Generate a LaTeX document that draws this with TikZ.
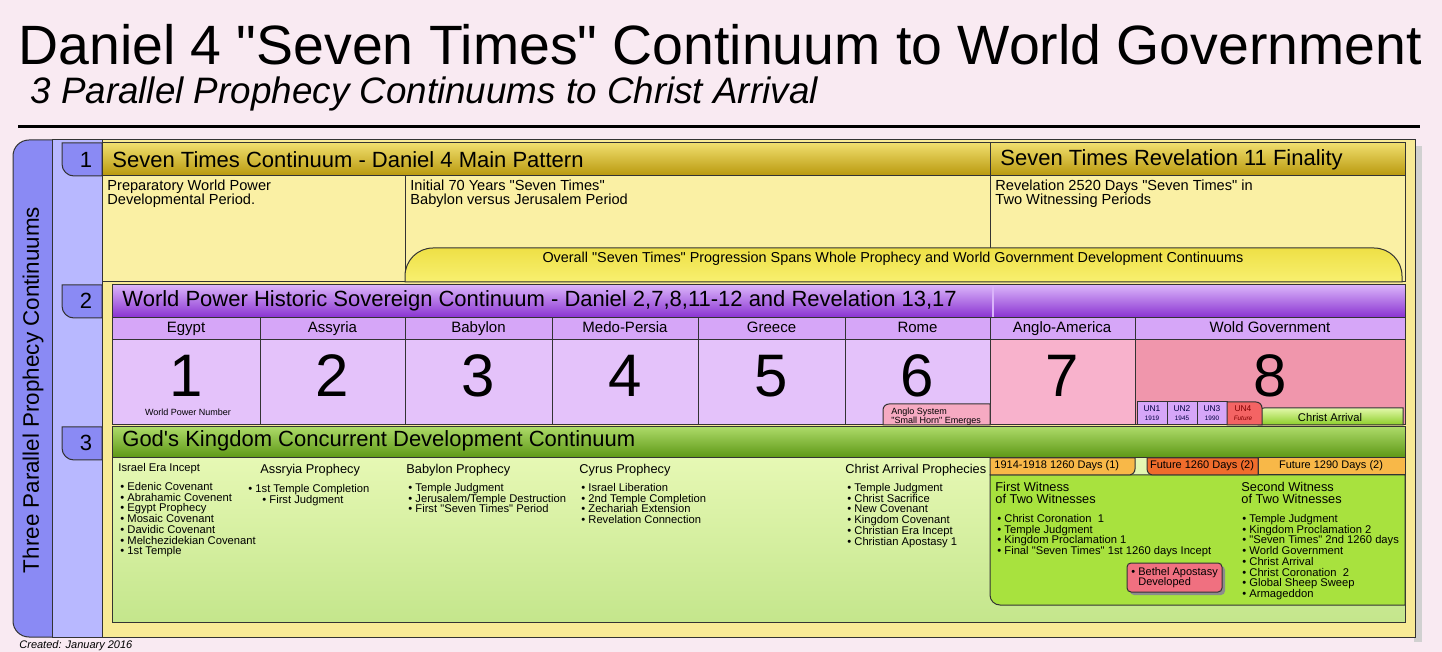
\documentclass[tikz,border=0pt]{standalone}
\usepackage{fontspec}
\setmainfont{Liberation Sans}[Ligatures=TeXOff]
\usetikzlibrary{positioning}
\setlength{\lineskiplimit}{-5pt}

\definecolor{bgpink}{RGB}{249,234,242}
\definecolor{colblue}{RGB}{138,138,244}
\definecolor{lightblue}{RGB}{184,184,255}
\definecolor{frameyellow}{RGB}{248,234,150}
\definecolor{bodyyellow}{RGB}{250,240,164}
\definecolor{goldtop}{RGB}{240,222,110}
\definecolor{goldbot}{RGB}{184,152,12}
\definecolor{bandtop}{RGB}{238,224,70}
\definecolor{bandbot}{RGB}{248,240,112}
\definecolor{purpletop}{RGB}{218,180,250}
\definecolor{purplebot}{RGB}{136,48,208}
\definecolor{lavender}{RGB}{214,166,248}
\definecolor{cellpurple}{RGB}{228,194,250}
\definecolor{anglopink}{RGB}{248,178,204}
\definecolor{worldrose}{RGB}{240,150,172}
\definecolor{greentop}{RGB}{172,218,104}
\definecolor{greenbot}{RGB}{92,150,20}
\definecolor{bodygreentop}{RGB}{230,248,180}
\definecolor{bodygreenbot}{RGB}{196,230,140}
\definecolor{witnessgreen}{RGB}{168,226,62}
\definecolor{arrivaltop}{RGB}{226,248,170}
\definecolor{arrivalbot}{RGB}{140,206,40}
\definecolor{tabamber}{RGB}{248,184,72}
\definecolor{tabred}{RGB}{240,108,44}
\definecolor{unred}{RGB}{244,100,100}
\definecolor{bethelpink}{RGB}{240,112,128}

\begin{document}
\begin{tikzpicture}[x=0.5pt,y=-0.5pt,
  outline/.style={draw=black!80,line width=0.5pt},
  hdr/.style={anchor=west,inner sep=0pt,font=\fontsize{11}{13}\selectfont},
  tabnum/.style={inner sep=0pt,font=\fontsize{11}{13}\selectfont},
  note/.style={anchor=north west,inner sep=0pt,align=left,font=\fontsize{7.3}{7}\selectfont},
  cellname/.style={anchor=base,inner sep=0pt,font=\fontsize{7.5}{9}\selectfont},
  bignum/.style={anchor=base,inner sep=0pt,text depth=0pt,font=\fontsize{30}{32}\selectfont},
  colhead/.style={anchor=west,inner sep=0pt,font=\fontsize{6.4}{7}\selectfont},
  bullets/.style={anchor=north west,inner sep=0pt,align=left,font=\fontsize{5.6}{5.35}\selectfont},
  smallprint/.style={inner sep=0pt,align=center,font=\fontsize{4.5}{4.5}\selectfont}]

\useasboundingbox (0,0) rectangle (1442,652);
\fill[bgpink] (0,0) rectangle (1442,652);

% Title block
\node[anchor=base west,inner sep=0pt,font=\fontsize{27.7}{30}\selectfont] (title) at (18,65) {Daniel 4 "Seven Times" Continuum to World Government};
\node[anchor=base west,inner sep=0pt,font=\fontsize{18.4}{20}\selectfont\itshape] (subtitle) at (30,104) {3 Parallel Prophecy Continuums to Christ Arrival};
\draw[line width=1.5pt] (18,127) -- (1420,127);

% Frame and side columns
\fill[black!18] (1414,146) rectangle (1422,642);
\draw[outline,fill=frameyellow] (90,140) rectangle (1415,637);
\draw[outline,fill=colblue,rounded corners=8pt] (13,140) rectangle (70,637);
\draw[outline,fill=lightblue] (52,140) rectangle (102,637);
\node[rotate=90,inner sep=0pt,font=\fontsize{11.2}{13}\selectfont] (side) at (33,390) {Three Parallel Prophecy Continuums};

% Row 1 - Seven Times continuum
\draw[outline,fill=colblue] (62,143) -- (102,143) -- (102,176) -- (74,176) arc[start angle=90,end angle=180,radius=12] -- cycle;
\node[tabnum] (tab1) at (86,160) {1};
\draw[outline,top color=goldtop,bottom color=goldbot] (102,143) rectangle (1405,176);
\node[hdr] (head1) at (112,160) {Seven Times Continuum - Daniel 4 Main Pattern};
\node[hdr] (head1b) at (1000,160) {Seven Times Revelation 11 Finality};
\draw[outline,fill=bodyyellow] (102,176) rectangle (1405,282);
\draw[outline] (990,143) -- (990,282);
\draw[outline] (405,176) -- (405,282);
\node[note] (prep) at (107,180) {Preparatory World Power\\Developmental Period.};
\node[note] (initial) at (410,180) {Initial 70 Years "Seven Times"\\Babylon versus Jerusalem Period};
\node[note] (revel) at (995,180) {Revelation 2520 Days "Seven Times" in\\Two Witnessing Periods};
\draw[outline,top color=bandtop,bottom color=bandbot] (405,282) -- (405,276) arc[start angle=180,end angle=270,radius=28] -- (1374,248) arc[start angle=270,end angle=360,radius=28] -- (1402,282) -- cycle;
\node[inner sep=0pt,font=\fontsize{7.2}{8}\selectfont] (overall) at (893,259) {Overall "Seven Times" Progression Spans Whole Prophecy and World Government Development Continuums};

% Row 2 - world power continuum
\draw[outline,fill=colblue] (62,285) -- (102,285) -- (102,318) -- (74,318) arc[start angle=90,end angle=180,radius=12] -- cycle;
\node[tabnum] (tab2) at (86,301) {2};
\draw[outline,top color=purpletop,bottom color=purplebot] (112,285) rectangle (1405,318);
\draw[purpletop,line width=0.6pt] (993,286) -- (993,317);
\node[hdr] (head2) at (122,301) {World Power Historic Sovereign Continuum - Daniel 2,7,8,11-12 and Revelation 13,17};
\foreach \xa/\xb/\realm/\num in {112/260/Egypt/1,260/405/Assyria/2,405/552/Babylon/3,552/698/Medo-Persia/4,698/845/Greece/5,845/990/Rome/6}{
  \draw[outline,fill=lavender] (\xa,318) rectangle (\xb,340);
  \draw[outline,fill=cellpurple] (\xa,340) rectangle (\xb,425);
  \node[cellname] (realm\num) at ({(\xa+\xb)/2},333) {\realm};
  \node[bignum] (power\num) at ({(\xa+\xb)/2},397) {\num};
}
\draw[outline,fill=lavender] (990,318) rectangle (1135,340);
\draw[outline,fill=lavender] (1135,318) rectangle (1405,340);
\draw[outline,fill=anglopink] (990,340) rectangle (1135,425);
\draw[outline,fill=worldrose] (1135,340) rectangle (1405,425);
\node[cellname] (realm7) at (1062,333) {Anglo-America};
\node[cellname] (realm8) at (1270,333) {Wold Government};
\node[bignum] (power7) at (1062,397) {7};
\node[bignum] (power8) at (1270,397) {8};
\node[smallprint] (wpn) at (188,412) {World Power Number};
\draw[outline,fill=anglopink!70!worldrose] (990,425) -- (883,425) -- (883,410) arc[start angle=180,end angle=270,radius=6] -- (990,404) -- cycle;
\node[smallprint,anchor=north west,align=left] (anglo) at (891,408) {Anglo System\\"Small Horn" Emerges};

% UN stages and arrival
\draw[outline,top color=arrivaltop,bottom color=arrivalbot] (1258,425) -- (1258,414) arc[start angle=180,end angle=270,radius=6] -- (1403,408) -- (1403,425) -- cycle;
\node[inner sep=0pt,font=\fontsize{5.6}{6}\selectfont] (arrival) at (1330,417) {Christ Arrival};
\draw[outline,fill=lavender] (1137,402) rectangle (1167,425);
\draw[outline,fill=lavender] (1167,402) rectangle (1197,425);
\draw[outline,fill=lavender] (1197,402) rectangle (1227,425);
\draw[outline,fill=unred] (1227,425) -- (1227,402) -- (1256,402) arc[start angle=270,end angle=360,radius=6] -- (1262,425) -- cycle;
\node[smallprint,font=\fontsize{4.2}{4.2}\selectfont,text=black!75!blue] (un1) at (1152,413) {UN1\\{\fontsize{3.2}{3.6}\selectfont 1919}};
\node[smallprint,font=\fontsize{4.2}{4.2}\selectfont,text=black!75!blue] (un2) at (1182,413) {UN2\\{\fontsize{3.2}{3.6}\selectfont 1945}};
\node[smallprint,font=\fontsize{4.2}{4.2}\selectfont,text=black!75!blue] (un3) at (1212,413) {UN3\\{\fontsize{3.2}{3.6}\selectfont 1990}};
\node[smallprint,font=\fontsize{4.2}{4.2}\selectfont,text=red!50!black] (un4) at (1243,413) {UN4\\{\fontsize{3.2}{3.6}\selectfont\itshape Future}};

% Row 3 - God's Kingdom continuum
\draw[outline,fill=colblue] (62,427) -- (102,427) -- (102,460) -- (74,460) arc[start angle=90,end angle=180,radius=12] -- cycle;
\node[tabnum] (tab3) at (86,443) {3};
\draw[outline,top color=greentop,bottom color=greenbot] (112,427) rectangle (1405,458);
\node[hdr] (head3) at (122,441) {God's Kingdom Concurrent Development Continuum};
\draw[outline,top color=bodygreentop,bottom color=bodygreenbot] (112,458) rectangle (1405,622);

\node[colhead,font=\fontsize{5.6}{7}\selectfont] (israel) at (118,469) {Israel Era Incept};
\node[bullets] (israellist) at (120,482) {\textbullet{} Edenic Covenant\\\textbullet{} Abrahamic Covenent\\\textbullet{} Egypt Prophecy\\\textbullet{} Mosaic Covenant\\\textbullet{} Davidic Covenant\\\textbullet{} Melchezidekian Covenant\\\textbullet{} 1st Temple};
\node[colhead] (assyria) at (260,470) {Assryia Prophecy};
\node[bullets] (assyrialist) at (248,484) {\textbullet{} 1st Temple Completion\\\hspace*{7pt}\textbullet{} First Judgment};
\node[colhead] (babylon) at (406,470) {Babylon Prophecy};
\node[bullets] (babylonlist) at (408,483) {\textbullet{} Temple Judgment\\\textbullet{} Jerusalem/Temple Destruction\\\textbullet{} First "Seven Times" Period};
\node[colhead] (cyrus) at (579,470) {Cyrus Prophecy};
\node[bullets] (cyruslist) at (581,483) {\textbullet{} Israel Liberation\\\textbullet{} 2nd Temple Completion\\\textbullet{} Zechariah Extension\\\textbullet{} Revelation Connection};
\node[colhead] (christ) at (845,470) {Christ Arrival Prophecies};
\node[bullets] (christlist) at (847,483) {\textbullet{} Temple Judgment\\\textbullet{} Christ Sacrifice\\\textbullet{} New Covenant\\\textbullet{} Kingdom Covenant\\\textbullet{} Christian Era Incept\\\textbullet{} Christian Apostasy 1};

% Two witnesses panel
\draw[outline,fill=witnessgreen] (990,475) -- (1405,475) -- (1405,605) -- (1000,605) arc[start angle=90,end angle=180,radius=10] -- cycle;
\draw[outline,fill=tabamber] (990,458) -- (1135,458) -- (1135,469) arc[start angle=0,end angle=90,radius=6] -- (990,475) -- cycle;
\draw[outline,fill=tabred] (1258,458) -- (1147,458) -- (1147,469) arc[start angle=180,end angle=90,radius=6] -- (1258,475) -- cycle;
\draw[outline,fill=tabamber] (1258,458) rectangle (1405,475);
\node[colhead,font=\fontsize{5.5}{6}\selectfont] (days1) at (994,466) {1914-1918 1260 Days (1)};
\node[inner sep=0pt,font=\fontsize{5.5}{6}\selectfont] (days2) at (1202,466) {Future 1260 Days (2)};
\node[inner sep=0pt,font=\fontsize{5.5}{6}\selectfont] (days3) at (1331,466) {Future 1290 Days (2)};

\node[note,font=\fontsize{6.4}{6}\selectfont] (wit1) at (995,482) {First Witness\\of Two Witnesses};
\node[bullets] (wit1list) at (997,514) {\textbullet{} Christ Coronation\ \ 1\\\textbullet{} Temple Judgment\\\textbullet{} Kingdom Proclamation 1\\\textbullet{} Final "Seven Times" 1st 1260 days Incept};
\node[note,font=\fontsize{6.4}{6}\selectfont] (wit2) at (1241,482) {Second Witness\\of Two Witnesses};
\node[bullets] (wit2list) at (1242,514) {\textbullet{} Temple Judgment\\\textbullet{} Kingdom Proclamation 2\\\textbullet{} "Seven Times" 2nd 1260 days\\\textbullet{} World Government\\\textbullet{} Christ Arrival\\\textbullet{} Christ Coronation\ \ 2\\\textbullet{} Global Sheep Sweep\\\textbullet{} Armageddon};

\fill[black!45,rounded corners=2pt] (1130,566) rectangle (1225,595);
\draw[outline,fill=bethelpink,rounded corners=2pt] (1127,563) rectangle (1222,592);
\node[bullets,font=\fontsize{5.5}{5.2}\selectfont] (bethel) at (1131,567) {\textbullet{} Bethel Apostasy\\\phantom{\textbullet{} }Developed};

\node[anchor=base west,inner sep=0pt,font=\fontsize{5.5}{6}\selectfont\itshape] (created) at (19,648) {Created: January 2016};

\end{tikzpicture}
\end{document}
